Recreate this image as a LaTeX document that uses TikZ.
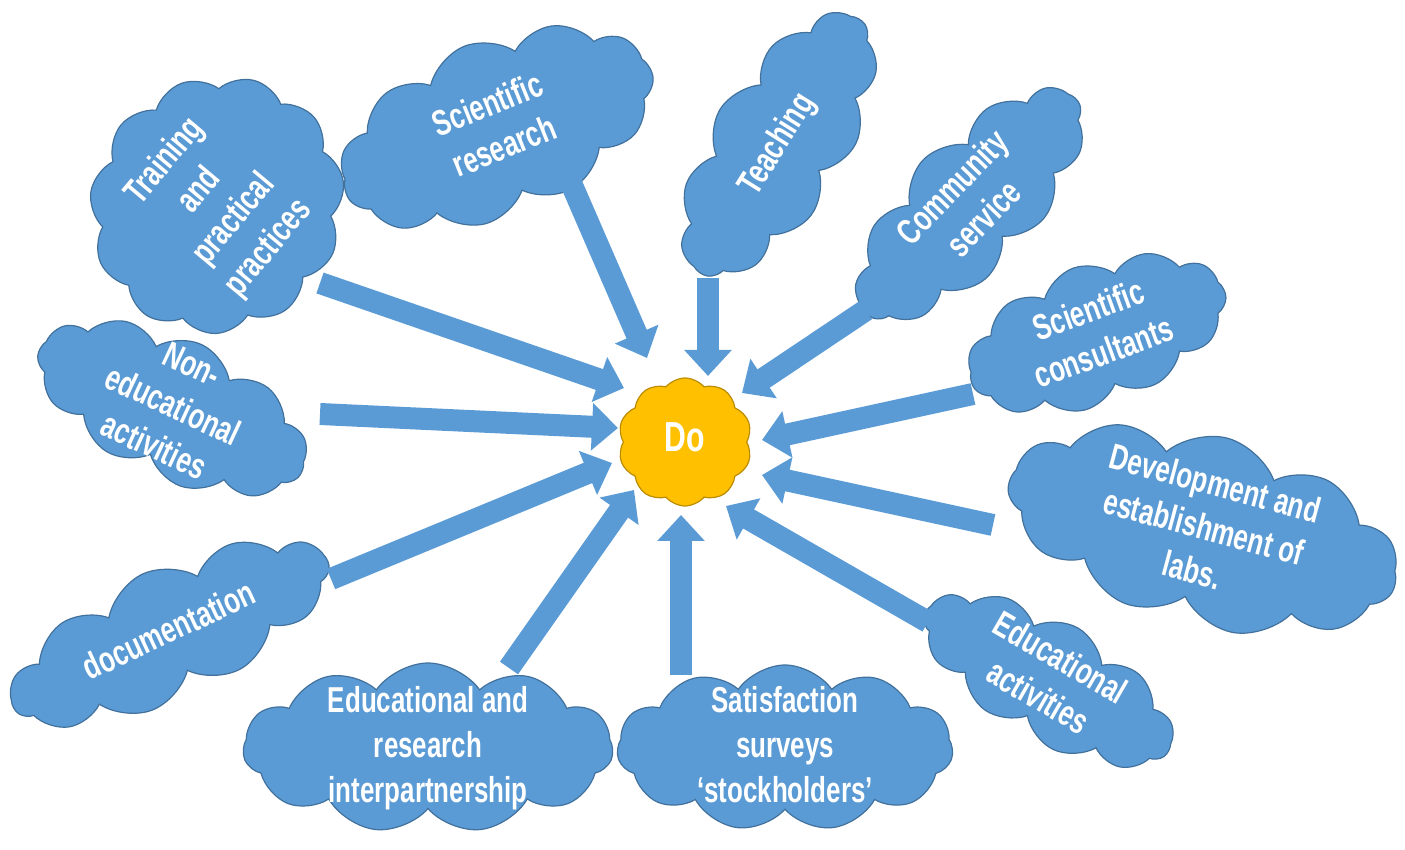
\documentclass[tikz,border=0pt]{standalone}
\usepackage{fontspec}
\usetikzlibrary{shapes.symbols,arrows.meta}
\newfontfamily\agency{Liberation Sans}[FakeStretch=0.72]
\definecolor{cloudblue}{HTML}{5B9BD5}
\definecolor{cloudedge}{HTML}{41719C}
\definecolor{dogold}{HTML}{FFC000}
\definecolor{doedge}{HTML}{BC8C00}
% stacked lines that do not widen the cloud around them
\newcommand\cloudlines[1]{\makebox[0pt]{\raisebox{-0.25em}[0pt][0pt]{\begin{tabular}{@{}c@{}}#1\end{tabular}}}}
\tikzset{
  puff/.style={cloud, cloud puffs=11, cloud puff arc=110, cloud ignores aspect,
    draw=cloudedge, fill=cloudblue, line width=0.6pt, inner sep=0pt, text=white,
    font=\agency\bfseries\fontsize{18}{22.5}\selectfont},
  feed/.style={line width=11pt, cloudblue, -{Triangle[width=23pt,length=13pt]}},
}
\begin{document}
\begin{tikzpicture}[x=0.5pt,y=-0.5pt]
\useasboundingbox (0,0) rectangle (1405,850);
%CLOUDS
\node[puff, rotate=50, minimum width=131pt, minimum height=125pt] (train) at (217,205) {\cloudlines{Training\\and\\practical\\practices}};
\node[puff, rotate=22, minimum width=165pt, minimum height=88pt] (sr) at (497,128) {\cloudlines{Scientific\\research}};
\node[puff, rotate=58, minimum width=150pt, minimum height=68pt] (teach) at (778,145) {\cloudlines{Teaching}};
\node[puff, rotate=46, minimum width=150pt, minimum height=65pt] (comm) at (970,205) {\cloudlines{Community\\service}};
\node[puff, rotate=20, minimum width=135pt, minimum height=70pt] (cons) at (1097,334) {\cloudlines{Scientific\\consultants}};
\node[puff, rotate=-15, minimum width=200pt, minimum height=95pt] (dev) at (1203,530) {\cloudlines{Development and\\establishment of\\labs.}};
\node[puff, rotate=-30, minimum width=140pt, minimum height=60pt] (eduact) at (1048,680) {\cloudlines{Educational\\activities}};
\node[puff, minimum width=168pt, minimum height=83pt] (sat) at (785,748) {\cloudlines{Satisfaction\\surveys\\‘stockholders’}};
\node[puff, minimum width=185pt, minimum height=85pt] (inter) at (428,748) {\cloudlines{Educational and\\research\\interpartnership}};
\node[puff, rotate=25, minimum width=173pt, minimum height=65pt] (doc) at (170,633) {\cloudlines{documentation}};
\node[puff, rotate=-25, minimum width=145pt, minimum height=70pt] (noned) at (172,408) {\cloudlines{Non-\\educational\\activities}};
% centre
\node[puff, cloud puffs=10, cloud puff arc=100, fill=dogold, draw=doedge, minimum width=67pt, minimum height=64pt,
  font=\agency\bfseries\fontsize{21}{24}\selectfont] (do) at (685,442) {\cloudlines{Do}};
%ARROWS
\coordinate (train-out) at (320,283);  \coordinate (train-in) at (624,388);
\coordinate (sr-out) at (571,183);     \coordinate (sr-in) at (647,358);
\coordinate (teach-out) at (708,278);  \coordinate (teach-in) at (708,376);
\coordinate (comm-out) at (866,310);   \coordinate (comm-in) at (742,393);
\coordinate (cons-out) at (973,394);   \coordinate (cons-in) at (762,440);
\coordinate (dev-out) at (993,525);    \coordinate (dev-in) at (762,475);
\coordinate (eduact-out) at (928,622); \coordinate (eduact-in) at (726,506);
\coordinate (sat-out) at (681,675);    \coordinate (sat-in) at (681,515);
\coordinate (inter-out) at (509,668);  \coordinate (inter-in) at (634,490);
\coordinate (doc-out) at (331,579);    \coordinate (doc-in) at (612,463);
\coordinate (noned-out) at (320,414);  \coordinate (noned-in) at (618,428);
\draw[feed] (train-out) -- (train-in);
\draw[feed] (sr-out) -- (sr-in);
\draw[feed] (teach-out) -- (teach-in);
\draw[feed] (comm-out) -- (comm-in);
\draw[feed] (cons-out) -- (cons-in);
\draw[feed] (dev-out) -- (dev-in);
\draw[feed] (eduact-out) -- (eduact-in);
\draw[feed] (sat-out) -- (sat-in);
\draw[feed] (inter-out) -- (inter-in);
\draw[feed] (doc-out) -- (doc-in);
\draw[feed] (noned-out) -- (noned-in);
\end{tikzpicture}
\end{document}
